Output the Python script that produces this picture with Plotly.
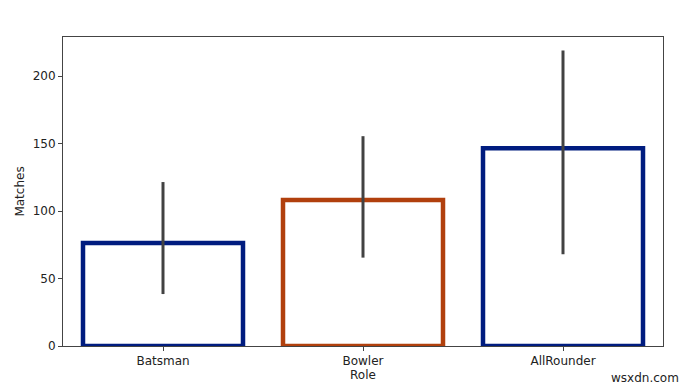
import plotly.graph_objects as go

roles = ["Batsman", "Bowler", "AllRounder"]
matches = [76.3, 108.2, 146.5]
ci_low = [38.5, 65.5, 68.0]
ci_high = [121.5, 155.5, 219.0]
edge_colors = ["#001c7f", "#b1400d", "#001c7f"]

err_plus = [h - v for h, v in zip(ci_high, matches)]
err_minus = [v - l for v, l in zip(matches, ci_low)]

fig = go.Figure()
fig.add_trace(go.Bar(
    x=roles, y=matches, width=0.8,
    marker=dict(color="white", line=dict(color=edge_colors, width=4.5)),
    error_y=dict(type="data", symmetric=False, array=err_plus, arrayminus=err_minus,
                 color="#424242", thickness=3, width=0),
    showlegend=False,
))

font = dict(family="DejaVu Sans", size=12, color="#222")
fig.update_layout(
    width=700, height=391,
    margin=dict(l=55, r=45, t=29, b=53),
    paper_bgcolor="white", plot_bgcolor="white",
    font=font, bargap=0.2,
    xaxis=dict(title=dict(text="Role", standoff=2, font=font), range=[-0.5, 2.5],
               showline=True, linecolor="#444", linewidth=1, mirror=True,
               ticks="outside", ticklen=4, tickcolor="#444", showgrid=False),
    yaxis=dict(title=dict(text="Matches", standoff=5, font=font), range=[0, 229],
               tickvals=[0, 50, 100, 150, 200],
               showline=True, linecolor="#444", linewidth=1, mirror=True,
               ticks="outside", ticklen=4, tickcolor="#444", showgrid=False, zeroline=False),
    annotations=[dict(text="wsxdn.com", x=1.03, y=-0.104, xref="paper", yref="paper",
                      xanchor="right", yanchor="middle", showarrow=False,
                      font=dict(family="DejaVu Sans", size=12, color="#222"))],
)
fig.write_html("out.html")
